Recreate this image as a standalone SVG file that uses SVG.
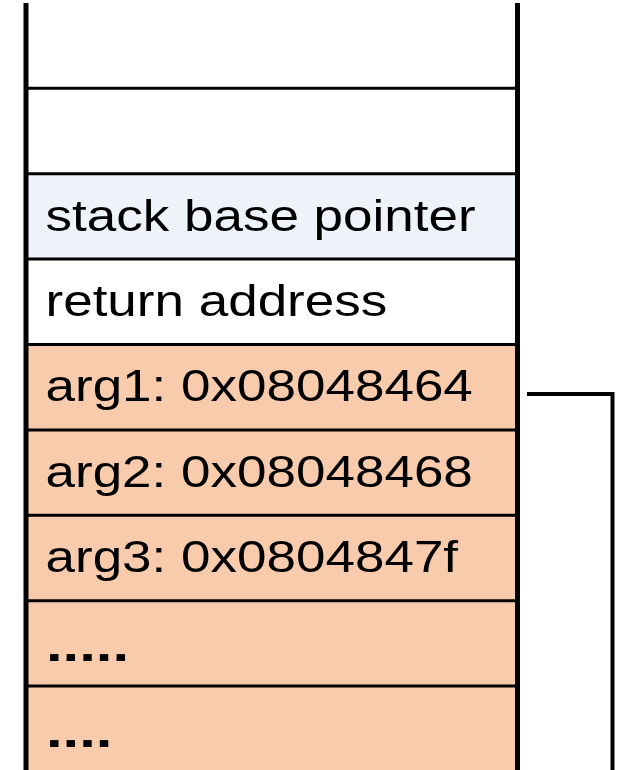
<svg xmlns="http://www.w3.org/2000/svg" width="621" height="770" viewBox="0 0 621 770">
  <style>
    .cell { stroke: none; }
    .white { fill: #ffffff; }
    .blue { fill: #eef3fa; }
    .peach { fill: #f8cbad; }
    .sep { stroke: #000; stroke-width: 3; fill: none; }
    .wall { stroke: #000; stroke-width: 5; fill: none; }
    .wire { stroke: #000; stroke-width: 4; fill: none; }
    .lbl { font-family: "Liberation Sans", Arial, sans-serif; font-size: 44px; fill: #000; }
    .dots { font-family: "Liberation Sans", Arial, sans-serif; font-size: 46px; font-weight: bold; fill: #000; }
  </style>
  <rect x="0" y="0" width="621" height="770" fill="#ffffff"/>

  <!-- stack frame cells, top to bottom -->
  <g id="slot-empty-1">
    <rect class="cell white" x="26" y="3" width="491.5" height="85.3"/>
  </g>
  <g id="slot-empty-2">
    <rect class="cell white" x="26" y="88.3" width="491.5" height="85.4"/>
  </g>
  <g id="slot-base-pointer">
    <rect class="cell blue" x="26" y="173.7" width="491.5" height="85.4"/>
    <text class="lbl" transform="matrix(1.205 0 0 1 45.5 231)">stack base pointer</text>
  </g>
  <g id="slot-return-address">
    <rect class="cell white" x="26" y="259.1" width="491.5" height="85.4"/>
    <text class="lbl" transform="matrix(1.205 0 0 1 45.5 316)">return address</text>
  </g>
  <g id="slot-arg1">
    <rect class="cell peach" x="26" y="344.5" width="491.5" height="85.4"/>
    <text class="lbl" transform="matrix(1.205 0 0 1 45.5 401)">arg1: 0x08048464</text>
  </g>
  <g id="slot-arg2">
    <rect class="cell peach" x="26" y="429.9" width="491.5" height="85.4"/>
    <text class="lbl" transform="matrix(1.205 0 0 1 45.5 486.5)">arg2: 0x08048468</text>
  </g>
  <g id="slot-arg3">
    <rect class="cell peach" x="26" y="515.3" width="491.5" height="85.4"/>
    <text class="lbl" transform="matrix(1.205 0 0 1 45.5 572)">arg3: 0x0804847f</text>
  </g>
  <g id="slot-more-1">
    <rect class="cell peach" x="26" y="600.7" width="491.5" height="85.4"/>
    <text class="dots" transform="matrix(1.3 0 0 1 46 661)">.....</text>
  </g>
  <g id="slot-more-2">
    <rect class="cell peach" x="26" y="686.1" width="491.5" height="84"/>
    <text class="dots" transform="matrix(1.3 0 0 1 46 746.5)">....</text>
  </g>

  <!-- cell separators -->
  <g id="separators">
    <line class="sep" x1="26" y1="88.3" x2="517.5" y2="88.3"/>
    <line class="sep" x1="26" y1="173.7" x2="517.5" y2="173.7"/>
    <line class="sep" x1="26" y1="259.1" x2="517.5" y2="259.1"/>
    <line class="sep" x1="26" y1="344.5" x2="517.5" y2="344.5"/>
    <line class="sep" x1="26" y1="429.9" x2="517.5" y2="429.9"/>
    <line class="sep" x1="26" y1="515.3" x2="517.5" y2="515.3"/>
    <line class="sep" x1="26" y1="600.7" x2="517.5" y2="600.7"/>
    <line class="sep" x1="26" y1="686.1" x2="517.5" y2="686.1"/>
  </g>

  <!-- stack walls -->
  <g id="walls">
    <line class="wall" x1="26" y1="3" x2="26" y2="770"/>
    <line class="wall" x1="517.5" y1="3" x2="517.5" y2="770"/>
  </g>

  <!-- pointer leaving arg1 -->
  <g id="connectors">
    <polyline class="wire" points="527,394 612.5,394 612.5,770"/>
  </g>
</svg>
